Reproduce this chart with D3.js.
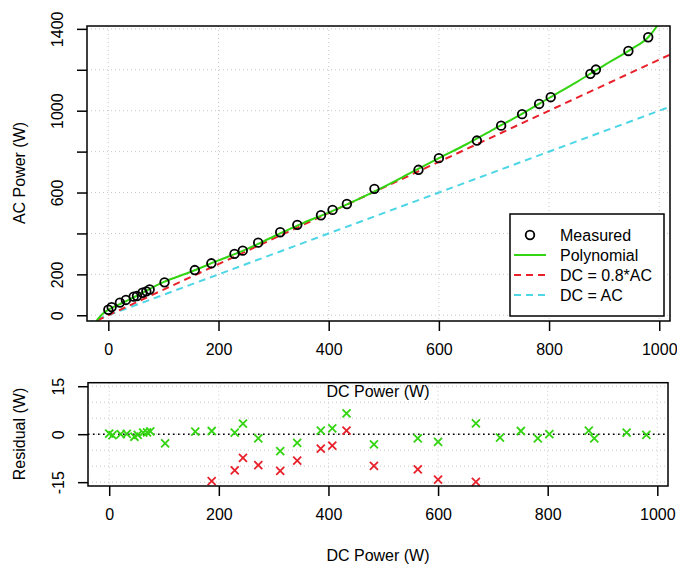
<!DOCTYPE html>
<html>
<head>
<meta charset="utf-8">
<script src="https://cdn.jsdelivr.net/npm/d3@7"></script>
<style>
  body { margin: 0; background: #fff; }
  text { font-family: "Liberation Sans", Arial, sans-serif; }
</style>
</head>
<body>
<script>
// measured points (DC in W, AC in W)
var measDC = [0, 6, 21, 32, 46, 52, 62, 69, 75, 102, 157, 187, 229, 244, 272, 312, 343, 386, 407, 433, 483, 563, 600, 669, 713, 751, 782, 803, 875, 885, 944, 980];
var measAC = [27, 40, 62, 75, 91, 94, 110, 117, 126, 161, 221, 254, 300, 316, 355, 406, 442, 489, 515, 544, 618, 711, 768, 854, 927, 983, 1033, 1066, 1180, 1201, 1292, 1359];

// polynomial fit
var polyDC = [-22, -18, -10, 0, 25, 50, 100, 150, 200, 250, 300, 350, 400, 450, 500, 550, 600, 650, 700, 750, 800, 850, 900, 950, 980, 996, 1004];
var polyAC = [-30, -15, 8, 27, 60, 93, 162, 213, 268, 322, 385, 447, 502, 563, 628, 698, 768, 836, 910, 983, 1062, 1140, 1222, 1302, 1359, 1414, 1450];

// reference lines, end points
var lineDC = [-40, 1030];
var ac08 = [-50, 1287.5];   // DC = 0.8*AC
var ac10 = [-40, 1030];     // DC = AC

// residuals
var resPoly = [0.2, -0.3, 0, 0.1, -0.8, -0.2, 0.5, 0.6, 0.9, -2.9, 0.8, 1.0, 0.5, 3.3, -1.3, -5.3, -2.7, 1.1, 1.8, 6.5, -3.2, -1.3, -2.4, 3.4, -1.1, 1.0, -1.3, 0, 1.1, -1.3, 0.5, -0.2];
var resLinDC = [187, 229, 244, 272, 312, 343, 386, 407, 433, 483, 563, 600, 669];
var resLin = [-14.7, -11.3, -7.4, -9.7, -11.5, -8.3, -4.5, -3.6, 1.1, -9.9, -11.0, -14.2, -14.9];

var xTicks = [0, 200, 400, 600, 800, 1000];
var yTicks = [0, 200, 400, 600, 800, 1000, 1200, 1400];
var yLabels = [0, 200, 600, 1000, 1400];
var rTicks = [-15, 0, 15];
var rGrid = [-15, -10, -5, 0, 5, 10, 15];

var legendItems = ["Measured", "Polynomial", "DC = 0.8*AC", "DC = AC"];

var GREEN = "#33d411", RED = "#e8202a", CYAN = "#4dd6e6";

var svg = d3.select("body").append("svg")
    .attr("width", 677).attr("height", 565);

var x = d3.scaleLinear().domain([-38.7, 1019.5]).range([87, 670]);
var y = d3.scaleLinear().domain([-28, 1414]).range([321, 26]);
var xr = d3.scaleLinear().domain([-38.7, 1019.5]).range([88, 668]);
var yr = d3.scaleLinear().domain([-16.2, 16.1]).range([486, 382.7]);

svg.append("clipPath").attr("id", "clipTop")
  .append("rect").attr("x", 87).attr("y", 26).attr("width", 583).attr("height", 295);

// ---------- top panel ----------
var grid = svg.append("g").attr("stroke", "#c8c8c8").attr("stroke-dasharray", "1,3");
grid.selectAll("line.gx").data(xTicks).enter().append("line")
    .attr("x1", function(d){ return x(d); }).attr("x2", function(d){ return x(d); })
    .attr("y1", 26).attr("y2", 321);
grid.selectAll("line.gy").data(yTicks).enter().append("line")
    .attr("y1", function(d){ return y(d); }).attr("y2", function(d){ return y(d); })
    .attr("x1", 87).attr("x2", 670);

var topG = svg.append("g").attr("clip-path", "url(#clipTop)");

var lineA = d3.line()
    .x(function(d){ return x(d[0]); })
    .y(function(d){ return y(d[1]); });

topG.append("path").datum(d3.zip(lineDC, ac10))
    .attr("d", lineA).attr("fill", "none").attr("stroke", CYAN)
    .attr("stroke-width", 2).attr("stroke-dasharray", "7,5");
topG.append("path").datum(d3.zip(lineDC, ac08))
    .attr("d", lineA).attr("fill", "none").attr("stroke", RED)
    .attr("stroke-width", 2).attr("stroke-dasharray", "7,5");
topG.append("path").datum(d3.zip(polyDC, polyAC))
    .attr("d", lineA.curve(d3.curveMonotoneX)).attr("fill", "none").attr("stroke", GREEN)
    .attr("stroke-width", 2);

topG.selectAll("circle").data(d3.zip(measDC, measAC)).enter().append("circle")
    .attr("cx", function(d){ return x(d[0]); })
    .attr("cy", function(d){ return y(d[1]); })
    .attr("r", 4.3).attr("fill", "none").attr("stroke", "#000").attr("stroke-width", 1.8);

svg.append("rect").attr("x", 87).attr("y", 26).attr("width", 583).attr("height", 295)
    .attr("fill", "none").attr("stroke", "#000").attr("stroke-width", 1.5);

var ax = svg.append("g").attr("transform", "translate(0,321)")
    .call(d3.axisBottom(x).tickValues(xTicks).tickSize(10).tickPadding(13).tickFormat(d3.format("d")));
var ay = svg.append("g").attr("transform", "translate(87,0)")
    .call(d3.axisLeft(y).tickValues(yTicks).tickSize(10)
      .tickFormat(function(d){ return yLabels.indexOf(d) >= 0 ? d : ""; }));

// ---------- legend ----------
var lg = svg.append("g");
lg.append("rect").attr("x", 510).attr("y", 214).attr("width", 154).attr("height", 102)
    .attr("fill", "#fff").attr("stroke", "#000").attr("stroke-width", 1.5);
var rows = lg.selectAll("g.row").data(legendItems).enter().append("g")
    .attr("transform", function(d, i){ return "translate(0," + (235 + i * 20) + ")"; });
rows.append("text").attr("x", 560).attr("y", 5.5).attr("font-size", 16).text(function(d){ return d; });
rows.filter(function(d, i){ return i === 0; }).append("circle")
    .attr("cx", 530).attr("cy", 0).attr("r", 4.3).attr("fill", "none")
    .attr("stroke", "#000").attr("stroke-width", 1.8);
rows.filter(function(d, i){ return i > 0; }).append("line")
    .attr("x1", 514).attr("x2", 546).attr("y1", 0).attr("y2", 0)
    .attr("stroke-width", 2)
    .attr("stroke", function(d, i){ return [GREEN, RED, CYAN][i]; })
    .attr("stroke-dasharray", function(d, i){ return i === 0 ? null : "7,5"; });

// ---------- residual panel ----------
var grid2 = svg.append("g").attr("stroke", "#c8c8c8").attr("stroke-dasharray", "1,3");
grid2.selectAll("line.gx").data(xTicks).enter().append("line")
    .attr("x1", function(d){ return xr(d); }).attr("x2", function(d){ return xr(d); })
    .attr("y1", 382.7).attr("y2", 486);
grid2.selectAll("line.gy").data(rGrid).enter().append("line")
    .attr("y1", function(d){ return yr(d); }).attr("y2", function(d){ return yr(d); })
    .attr("x1", 88).attr("x2", 668);

svg.append("line").attr("x1", 88).attr("x2", 668).attr("y1", yr(0)).attr("y2", yr(0))
    .attr("stroke", "#000").attr("stroke-width", 1.6).attr("stroke-dasharray", "1.6,3.4");

function cross(g, pts, color) {
  var s = 4;
  g.selectAll(null).data(pts).enter().append("path")
    .attr("d", function(d){
      var cx = xr(d[0]), cy = yr(d[1]);
      return "M" + (cx - s) + "," + (cy - s) + "L" + (cx + s) + "," + (cy + s) +
             "M" + (cx - s) + "," + (cy + s) + "L" + (cx + s) + "," + (cy - s);
    })
    .attr("stroke", color).attr("stroke-width", 1.8).attr("fill", "none");
}
var rg = svg.append("g");
cross(rg, d3.zip(resLinDC, resLin), RED);
cross(rg, d3.zip(measDC, resPoly), GREEN);

svg.append("rect").attr("x", 88).attr("y", 382.7).attr("width", 580).attr("height", 103.3)
    .attr("fill", "none").attr("stroke", "#000").attr("stroke-width", 1.5);

var bx = svg.append("g").attr("transform", "translate(0,486)")
    .call(d3.axisBottom(xr).tickValues(xTicks).tickSize(10).tickPadding(13).tickFormat(d3.format("d")));
var by = svg.append("g").attr("transform", "translate(88,0)")
    .call(d3.axisLeft(yr).tickValues(rTicks).tickSize(10).tickFormat(function(d){ return d < 0 ? "-" + Math.abs(d) : d; }));

[ax, ay, bx, by].forEach(function(a){
  a.select(".domain").remove();
  a.selectAll(".tick line").attr("stroke", "#000").attr("stroke-width", 1.5);
  a.selectAll(".tick text").attr("font-size", 16).attr("fill", "#000")
    .attr("font-family", "Liberation Sans, Arial, sans-serif");
});
[ay, by].forEach(function(a){
  a.selectAll(".tick text")
    .attr("x", null).attr("dy", null).attr("text-anchor", "middle")
    .attr("transform", "translate(-24,0) rotate(-90)");
});

// ---------- titles ----------
svg.append("text").attr("transform", "translate(25,173) rotate(-90)")
    .attr("text-anchor", "middle").attr("font-size", 16).text("AC Power (W)");
svg.append("text").attr("transform", "translate(25,434) rotate(-90)")
    .attr("text-anchor", "middle").attr("font-size", 16).text("Residual (W)");
svg.append("text").attr("x", 378).attr("y", 397).attr("text-anchor", "middle")
    .attr("font-size", 16).text("DC Power (W)");
svg.append("text").attr("x", 378).attr("y", 561).attr("text-anchor", "middle")
    .attr("font-size", 16).text("DC Power (W)");
</script>
</body>
</html>
